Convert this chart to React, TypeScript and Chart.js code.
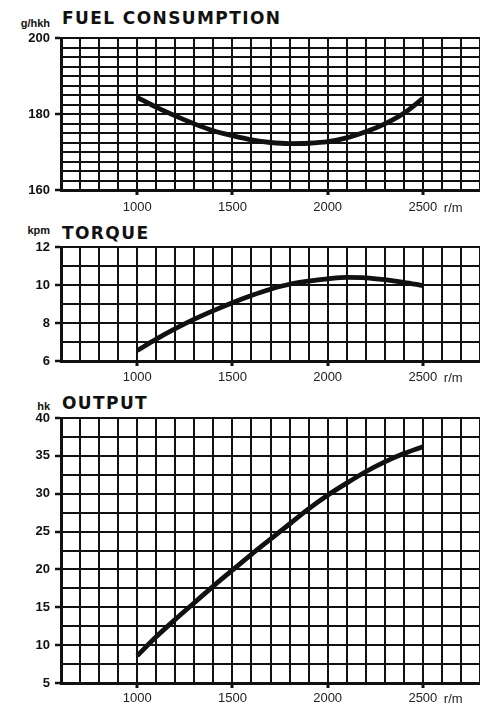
import React, { useEffect, useRef } from "react";
import { Chart, registerables } from "chart.js";

Chart.register(...registerables);

// ---- data ----
const rpm = [1000, 1100, 1200, 1300, 1400, 1500, 1600, 1700, 1800, 1900, 2000, 2100, 2200, 2300, 2400, 2500];
const fuelValues = [184.4, 181.8, 179.5, 177.4, 175.6, 174.3, 173.2, 172.5, 172.2, 172.3, 172.7, 173.7, 175.3, 177.4, 180.2, 184.1];
const torqueValues = [6.55, 7.15, 7.7, 8.2, 8.65, 9.07, 9.45, 9.78, 10.04, 10.2, 10.32, 10.4, 10.38, 10.28, 10.14, 9.97];
const outputValues = [8.6, 11.1, 13.4, 15.6, 17.8, 19.9, 22.0, 24.0, 26.0, 28.0, 29.8, 31.4, 32.9, 34.2, 35.3, 36.2];
const xTickLabels = [1000, 1500, 2000, 2500];
const xUnit = "r/m";
const titles = ["FUEL CONSUMPTION", "TORQUE", "OUTPUT"];
const units = ["g/hkh", "kpm", "hk"];

const INK = "#111";

type PanelProps = {
  top: number;
  height: number;
  axisH: number;
  labelPad: number;
  values: number[];
  yMin: number;
  yMax: number;
  yStep: number;
  yLabelEvery: number;
};

const isLabelX = (v: number) => xTickLabels.some((t) => Math.abs(t - v) < 1e-6);

function Panel(p: PanelProps) {
  const ref = useRef<HTMLCanvasElement | null>(null);
  useEffect(() => {
    if (!ref.current) return;
    const isLabelY = (v: number) => {
      const r = (v - p.yMin) / p.yLabelEvery;
      return Math.abs(r - Math.round(r)) < 1e-6;
    };
    const unitPlugin = {
      id: "xunit",
      afterDraw(chart: any) {
        const xs = chart.scales.x;
        const ctx = chart.ctx;
        ctx.save();
        ctx.font = "13px 'Liberation Sans', Arial, sans-serif";
        ctx.fillStyle = "#222";
        ctx.textAlign = "left";
        ctx.textBaseline = "middle";
        const last = xTickLabels[xTickLabels.length - 1];
        ctx.fillText(xUnit, xs.getPixelForValue(last) + 21, xs.top + 5 + p.labelPad + 8);
        ctx.restore();
      },
    };
    const chart = new Chart(ref.current, {
      type: "line",
      data: {
        datasets: [
          {
            data: rpm.map((x, i) => ({ x, y: p.values[i] })),
            borderColor: INK,
            borderWidth: 4.8,
            pointRadius: 0,
            fill: false,
            cubicInterpolationMode: "monotone",
            borderCapStyle: "butt",
          },
        ],
      },
      options: {
        responsive: false,
        animation: false,
        layout: { padding: { top: 10, left: 0, right: 0, bottom: 0 } },
        plugins: { legend: { display: false }, tooltip: { enabled: false }, title: { display: false } },
        scales: {
          x: {
            type: "linear",
            min: 600,
            max: 2800,
            afterFit: (s: any) => {
              s.height = p.axisH;
              s.paddingLeft = 0;
              s.paddingRight = 0;
            },
            ticks: {
              stepSize: 100,
              autoSkip: false,
              maxRotation: 0,
              padding: p.labelPad,
              color: "#222",
              font: { family: "'Liberation Sans', Arial, sans-serif", size: 13 },
              callback: (v: any) => (isLabelX(Number(v)) ? String(v) : ""),
            },
            grid: {
              color: INK,
              lineWidth: 2,
              tickLength: 5,
              tickWidth: 3,
              tickColor: (c: any) => (c.tick && isLabelX(c.tick.value) ? INK : "rgba(0,0,0,0)"),
            },
            border: { color: INK, width: 3 },
          },
          y: {
            type: "linear",
            min: p.yMin,
            max: p.yMax,
            afterFit: (s: any) => {
              s.width = 61;
              s.paddingTop = 0;
              s.paddingBottom = 0;
            },
            ticks: {
              stepSize: p.yStep,
              autoSkip: false,
              padding: 5,
              color: INK,
              font: { family: "'Liberation Sans', Arial, sans-serif", size: 13, weight: "bold" },
              callback: (v: any) => (isLabelY(Number(v)) ? String(Math.round(Number(v))) : ""),
            },
            grid: {
              color: INK,
              lineWidth: 2,
              tickLength: 6,
              tickWidth: 2.5,
              tickColor: (c: any) => (c.tick && isLabelY(c.tick.value) ? INK : "rgba(0,0,0,0)"),
            },
            border: { color: INK, width: 3 },
          },
        },
      },
      plugins: [unitPlugin],
    } as any);
    return () => chart.destroy();
  }, []);
  return (
    <canvas
      ref={ref}
      width={480}
      height={p.height}
      style={{ position: "absolute", left: 0, top: p.top, width: 480, height: p.height }}
    />
  );
}

const titleStyle = (top: number): React.CSSProperties => ({
  position: "absolute",
  left: 62,
  top,
  fontFamily: "'DejaVu Sans', 'Liberation Sans', Arial, sans-serif",
  fontWeight: "bold",
  fontSize: 17,
  lineHeight: "17px",
  letterSpacing: "1.4px",
  color: INK,
  whiteSpace: "nowrap",
});

const unitStyle = (top: number): React.CSSProperties => ({
  position: "absolute",
  left: 0,
  width: 50,
  top,
  textAlign: "right",
  fontFamily: "'Liberation Sans', Arial, sans-serif",
  fontWeight: "bold",
  fontSize: 11,
  lineHeight: "11px",
  color: INK,
  whiteSpace: "nowrap",
});

export default function App() {
  return (
    <div style={{ position: "absolute", left: 0, top: 0, width: 480, height: 705, background: "#fff", overflow: "hidden" }}>
      <div style={unitStyle(18)}>{units[0]}</div>
      <div style={titleStyle(10)}>{titles[0]}</div>
      <Panel top={28} height={190} axisH={28} labelPad={5} values={fuelValues} yMin={160} yMax={200} yStep={2.5} yLabelEvery={20} />

      <div style={unitStyle(225)}>{units[1]}</div>
      <div style={titleStyle(225)}>{titles[1]}</div>
      <Panel top={237} height={152} axisH={28} labelPad={4} values={torqueValues} yMin={6} yMax={12} yStep={1} yLabelEvery={2} />

      <div style={unitStyle(401)}>{units[2]}</div>
      <div style={titleStyle(395)}>{titles[2]}</div>
      <Panel top={408} height={297} axisH={22} labelPad={3} values={outputValues} yMin={5} yMax={40} yStep={2.5} yLabelEvery={5} />
    </div>
  );
}
